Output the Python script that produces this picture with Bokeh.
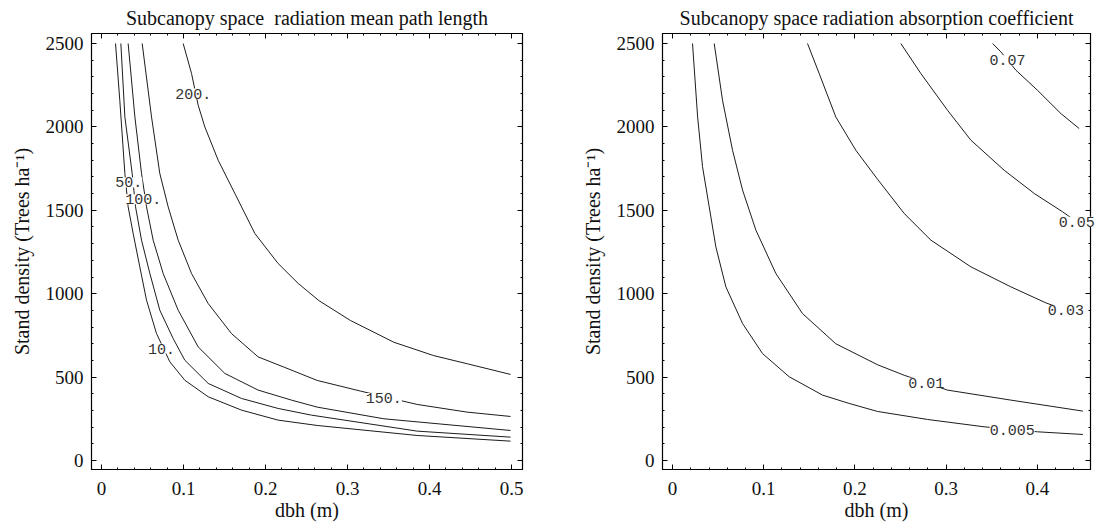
from bokeh.plotting import figure
from bokeh.layouts import row
from bokeh.models import Range1d, FixedTicker, LinearAxis, CustomJSTickFormatter, CustomLabelingPolicy
from bokeh.core.properties import value
from bokeh.embed import file_html
from bokeh.resources import INLINE

# ---------------- data: left panel (mean path length contours) ----------------
left_title = "Subcanopy space\u00a0 radiation mean path length"
c10_x = [0.0171, 0.0223, 0.0285, 0.0325, 0.0386, 0.0467, 0.0549, 0.0671, 0.0833, 0.1016, 0.1301, 0.1707, 0.2154, 0.263, 0.385, 0.4988]
c10_n = [2500, 2160, 1721, 1521, 1361, 1161, 961, 761, 592, 481, 382, 302, 242, 210, 150, 116]
c50_x = [0.0236, 0.0285, 0.0374, 0.0415, 0.0488, 0.059, 0.0711, 0.0874, 0.1016, 0.1301, 0.1707, 0.2154, 0.256, 0.385, 0.4988]
c50_n = [2500, 2060, 1721, 1521, 1321, 1121, 901, 731, 601, 462, 372, 312, 272, 176, 140]
c100_x = [0.0325, 0.0407, 0.0488, 0.0549, 0.063, 0.0752, 0.0935, 0.1179, 0.1504, 0.191, 0.2317, 0.263, 0.3443, 0.4988]
c100_n = [2500, 2060, 1721, 1521, 1321, 1121, 901, 681, 522, 422, 362, 320, 250, 180]
c150_x = [0.0496, 0.061, 0.0711, 0.0813, 0.0935, 0.1098, 0.1301, 0.1585, 0.191, 0.2224, 0.263, 0.3159, 0.385, 0.4458, 0.4988]
c150_n = [2500, 2060, 1721, 1521, 1321, 1121, 941, 761, 621, 560, 480, 416, 336, 290, 264]
c200_x = [0.0996, 0.1098, 0.1179, 0.126, 0.1423, 0.1626, 0.187, 0.2154, 0.24, 0.265, 0.3037, 0.3565, 0.405, 0.446, 0.4988]
c200_n = [2500, 2320, 2130, 2000, 1800, 1601, 1361, 1181, 1061, 959, 839, 709, 629, 580, 516]
left_label_text = ["200.", "50.", "100.", "10.", "150."]
left_label_x = [0.1118, 0.0333, 0.0508, 0.0732, 0.3443]
left_label_n = [2200, 1667, 1567, 671, 374]
left_xticks = [0, 0.1, 0.2, 0.3, 0.4, 0.5]

# ---------------- data: right panel (absorption coefficient contours) ----------------
right_title = "Subcanopy space radiation absorption coefficient"
k005_x = [0.0219, 0.0275, 0.0329, 0.0402, 0.0475, 0.0585, 0.0768, 0.0987, 0.1279, 0.1645, 0.1937, 0.2248, 0.2796, 0.3416, 0.4001, 0.45]
k005_n = [2500, 2060, 1761, 1521, 1281, 1041, 821, 641, 502, 392, 342, 294, 246, 202, 172, 156]
k01_x = [0.0457, 0.0548, 0.0658, 0.0768, 0.0914, 0.1133, 0.1425, 0.179, 0.2248, 0.254, 0.3015, 0.371, 0.45]
k01_n = [2500, 2160, 1860, 1621, 1381, 1121, 881, 700, 574, 511, 422, 362, 296]
k03_x = [0.148, 0.1608, 0.179, 0.201, 0.2248, 0.254, 0.2833, 0.3272, 0.371, 0.4094, 0.4313]
k03_n = [2500, 2320, 2060, 1860, 1686, 1481, 1321, 1161, 1041, 945, 901]
k05_x = [0.2503, 0.2723, 0.3015, 0.3272, 0.3637, 0.3966, 0.4277, 0.4433]
k05_n = [2500, 2320, 2100, 1920, 1740, 1601, 1491, 1431]
k07_x = [0.3509, 0.36, 0.3765, 0.4001, 0.4258, 0.4459]
k07_n = [2500, 2450, 2340, 2220, 2080, 1990]
right_label_text = ["0.07", "0.05", "0.03", "0.01", "0.005"]
right_label_x = [0.3673, 0.4433, 0.4313, 0.2781, 0.3724]
right_label_n = [2400, 1431, 901, 466, 182]
right_xticks = [0, 0.1, 0.2, 0.3, 0.4]

yticks = [0, 500, 1000, 1500, 2000, 2500]
x_label = "dbh (m)"
y_label = "Stand density (Trees ha\u207b\u00b9)"

SERIF = "Liberation Serif"
MONO = "Liberation Mono"
LINE = "#1c1c1c"


def minor_between(ticks, n):
    step = (ticks[1] - ticks[0]) / n
    out = []
    for t in ticks[:-1]:
        for i in range(1, n):
            out.append(t + i * step)
    return out


def no_labels():
    return CustomLabelingPolicy(code="return new Set()")


def make_fig(title, xr, xticks, width, bl, br):
    p = figure(width=width, height=527, x_range=Range1d(*xr), y_range=Range1d(-54, 2560),
               output_backend="svg", toolbar_location=None,
               min_border_left=bl, min_border_right=br, min_border_top=33, min_border_bottom=58)
    p.background_fill_color = "white"
    p.border_fill_color = "white"
    p.outline_line_color = "black"
    p.outline_line_width = 1.2
    p.grid.visible = False
    p.title.text = title
    p.title.text_font = SERIF
    p.title.text_font_style = "normal"
    p.title.text_font_size = "20px"
    p.title.text_line_height = 0.8
    p.title.align = "center"
    p.title.text_color = "#111"
    p.title.standoff = 9

    xt = FixedTicker(ticks=xticks, minor_ticks=minor_between(xticks + [xticks[-1] + 0.1], 5))
    yt = FixedTicker(ticks=yticks, minor_ticks=minor_between(yticks + [3000], 5))
    fmt = CustomJSTickFormatter(code="return Math.abs(tick) < 1e-9 ? '0' : tick.toFixed(1);")

    for ax in p.xaxis:
        ax.ticker = xt
        ax.formatter = fmt
        ax.axis_label = x_label
        ax.major_label_standoff = 12
        ax.axis_label_standoff = 1
    for ax in p.yaxis:
        ax.ticker = yt
        ax.axis_label = y_label
        ax.major_label_standoff = 8
        ax.axis_label_standoff = 10
    for ax in p.xaxis + p.yaxis:
        ax.axis_label_text_font = SERIF
        ax.axis_label_text_font_style = "normal"
        ax.axis_label_text_font_size = "20px"
        ax.axis_label_text_color = "#111"
        ax.major_label_text_font = SERIF
        ax.major_label_text_font_size = "19px"
        ax.major_label_text_color = "#111"
        ax.major_tick_in = 5
        ax.major_tick_out = 0
        ax.minor_tick_in = 2
        ax.minor_tick_out = 0
        ax.axis_line_color = "black"
        ax.major_tick_line_color = "black"
        ax.minor_tick_line_color = "black"

    top = LinearAxis(ticker=xt, major_label_policy=no_labels(), major_label_standoff=0,
                     major_label_text_font_size="0px",
                     major_tick_in=5, major_tick_out=0, minor_tick_in=2, minor_tick_out=0)
    right = LinearAxis(ticker=yt, major_label_policy=no_labels(), major_label_standoff=0,
                       major_label_text_font_size="0px",
                       major_tick_in=5, major_tick_out=0, minor_tick_in=2, minor_tick_out=0)
    p.add_layout(top, "above")
    p.add_layout(right, "right")
    return p


p1 = make_fig(left_title, (-0.0122, 0.5134), left_xticks, 546, 91, 24)
for xs, ns in [(c10_x, c10_n), (c50_x, c50_n), (c100_x, c100_n), (c150_x, c150_n), (c200_x, c200_n)]:
    p1.line(xs, ns, line_color=LINE, line_width=1.0)
p1.text(x=left_label_x, y=left_label_n, text=left_label_text, text_font=value(MONO),
        text_font_size="15px", text_align="center", text_baseline="middle",
        text_color="#333", background_fill_color="white", level="overlay")

p2 = make_fig(right_title, (-0.011, 0.4583), right_xticks, 550, 116, 6)
for xs, ns in [(k005_x, k005_n), (k01_x, k01_n), (k03_x, k03_n), (k05_x, k05_n), (k07_x, k07_n)]:
    p2.line(xs, ns, line_color=LINE, line_width=1.0)
p2.text(x=right_label_x, y=right_label_n, text=right_label_text, text_font=value(MONO),
        text_font_size="15px", text_align="center", text_baseline="middle",
        text_color="#333", background_fill_color="white", level="overlay")

layout = row(p1, p2)
open("out.html", "w").write(file_html(layout, INLINE))
